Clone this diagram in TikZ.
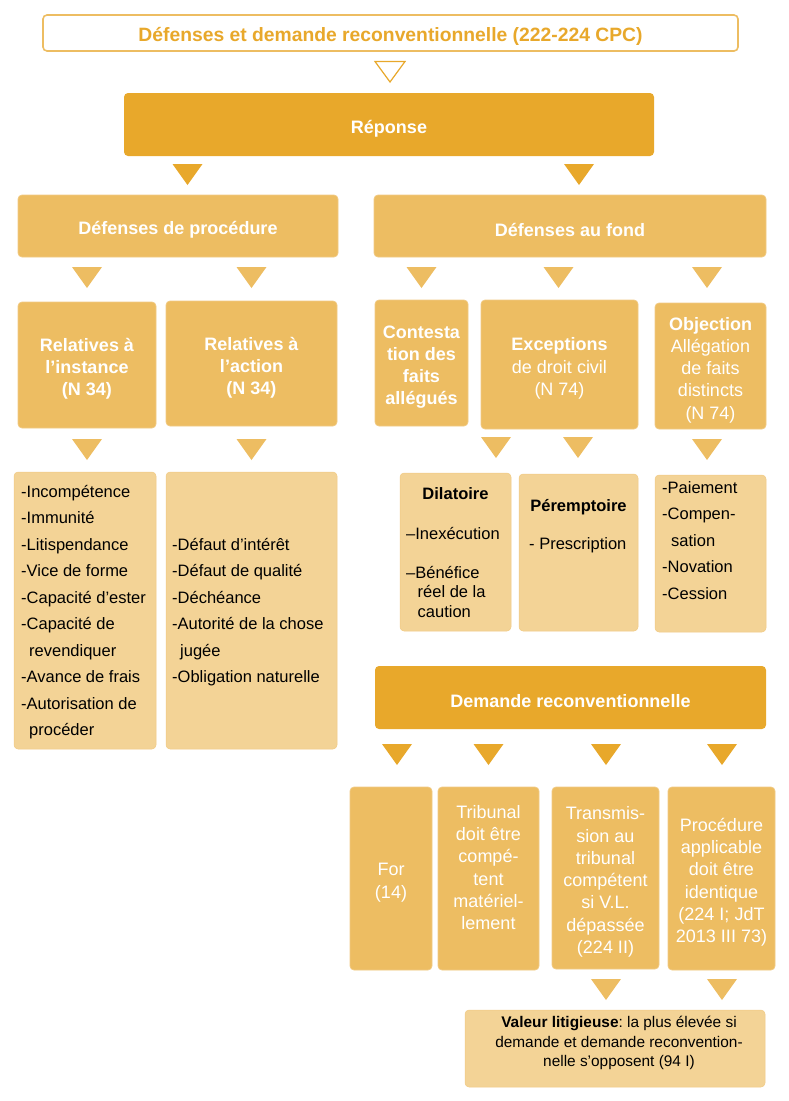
\documentclass[tikz,border=0pt]{standalone}
\usepackage{fontspec}
\setmainfont{Liberation Sans}
\frenchspacing
\definecolor{ocre}{HTML}{E8A82B}
\definecolor{sable}{HTML}{EDBD62}
\definecolor{creme}{HTML}{F3D396}
\definecolor{liseret}{HTML}{F1CA84}
\newcommand{\fsz}[2]{\fontsize{#1}{#2}\selectfont}
% invisible strut fixing the height of the first line of a list
\newcommand{\firstline}{\rule{0pt}{14pt}}
% taller strut that sets box captions slightly lower than plain centring
\newcommand{\boxstrut}{\rule{0pt}{21pt}}
% filled downward triangle: colour, centre x, top y
\newcommand{\dtri}[3]{\fill[#1] (#2-15,#3) -- (#2+15,#3) -- (#2,#3+21) -- cycle;}
\begin{document}
\begin{tikzpicture}[x=1pt,y=-1pt,
  box/.style={rounded corners=4pt, inner sep=0pt, align=center, text=white},
  darkbox/.style={box, fill=ocre, font={\bfseries\fsz{18}{22}}},
  midbox/.style={box, fill=sable, draw=liseret, line width=0.7pt, font={\fsz{18}{22.3}}},
  lightbox/.style={box, fill=creme, draw=liseret, line width=0.5pt},
  listtxt/.style={inner sep=0pt, align=left, text=black, font={\fsz{16.5}{26.5}}},
  itemtxt/.style={inner sep=0pt, text=black, font={\fsz{16.5}{19.5}}}
]
\useasboundingbox (0,0) rectangle (789,1101);

% title
\node[box, fill=white, draw=sable, line width=1.6pt, text=ocre,
      font={\bfseries\fsz{19.3}{22}}, minimum width=695pt, minimum height=36pt]
  (titre) at (390.5,33) {\boxstrut Défenses et demande reconventionnelle (222-224 CPC)};
\draw[ocre, line width=1.2pt, fill=white, line join=miter]
  (375,61.5) -- (405,61.5) -- (390,82) -- cycle;

% first level
\node[darkbox, minimum width=530pt, minimum height=63pt] (reponse) at (389,124.5) {\boxstrut Réponse};
\dtri{ocre}{187.5}{164}
\dtri{ocre}{579}{164}

% second level
\node[midbox, font={\bfseries\fsz{18}{22}}, minimum width=320pt, minimum height=62pt]
  (dproc) at (178,226) {\boxstrut Défenses de procédure};
\node[midbox, font={\bfseries\fsz{18}{22}}, minimum width=392pt, minimum height=62pt]
  (dfond) at (570,226) {\boxstrut Défenses au fond};
\dtri{sable}{87}{267}
\dtri{sable}{251.5}{267}
\dtri{sable}{421.5}{267}
\dtri{sable}{558.5}{267}
\dtri{sable}{707}{267}

% third level
\node[midbox, font={\bfseries\fsz{18}{22}}, minimum width=138pt, minimum height=126pt]
  (rinst) at (87,365) {\boxstrut Relatives à\\l’instance\\(N 34)};
\node[midbox, font={\bfseries\fsz{18}{22}}, minimum width=171pt, minimum height=125pt]
  (ract) at (251.5,363.5) {\boxstrut Relatives à\\l’action\\(N 34)};
\node[midbox, font={\bfseries\fsz{18}{22}}, minimum width=93pt, minimum height=126pt]
  (contest) at (421.5,363) {\boxstrut Contesta\\tion des\\faits\\allégués};
\node[midbox, minimum width=157pt, minimum height=129pt]
  (except) at (559.5,364.5) {\boxstrut\textbf{Exceptions}\\de droit civil\\(N 74)};
\node[midbox, minimum width=111pt, minimum height=126pt]
  (object) at (710.5,366) {\boxstrut\textbf{Objection}\\Allégation\\de faits\\distincts\\(N 74)};
\dtri{sable}{87}{439}
\dtri{sable}{251.5}{439}
\dtri{sable}{496}{437}
\dtri{sable}{578}{437}
\dtri{sable}{707}{439}

% lists of defences
\node[lightbox, minimum width=142pt, minimum height=277pt] (liste1) at (85,610.5) {};
\node[listtxt, anchor=north west] (txt1) at (21,483)
  {\firstline-Incompétence\\-Immunité\\-Litispendance\\-Vice de forme\\-Capacité d’ester\\-Capacité de\\\hspace*{8pt}revendiquer\\-Avance de frais\\-Autorisation de\\\hspace*{8pt}procéder};
\node[lightbox, minimum width=171pt, minimum height=277pt] (liste2) at (251.5,610.5) {};
\node[listtxt, anchor=north west] (txt2) at (172,536)
  {\firstline-Défaut d’intérêt\\-Défaut de qualité\\-Déchéance\\-Autorité de la chose\\\hspace*{8pt}jugée\\-Obligation naturelle};

\node[lightbox, minimum width=111pt, minimum height=158pt] (dilat) at (455.5,552) {};
\node[itemtxt, anchor=base, font={\bfseries\fsz{16.5}{19.5}}] (dilatt) at (455.5,499) {Dilatoire};
\node[itemtxt, align=left, anchor=north west] (dilatl) at (406,525)
  {\firstline–Inexécution\\[19.5pt]–Bénéfice\\\hspace*{11.5pt}réel de la\\\hspace*{11.5pt}caution};

\node[lightbox, minimum width=119pt, minimum height=157pt] (perem) at (578.5,552.5) {};
\node[itemtxt, anchor=base, font={\bfseries\fsz{16.5}{19.5}}] (peremt) at (578.5,511) {Péremptoire};
\node[itemtxt, anchor=base west] (pereml) at (529,549) {- Prescription};

\node[lightbox, minimum width=111pt, minimum height=157pt] (paie) at (710.5,553.5) {};
\node[listtxt, anchor=north west] (paiel) at (662,479)
  {\firstline-Paiement\\-Compen-\\\hspace*{9pt}sation\\-Novation\\-Cession};

% counterclaim
\node[darkbox, minimum width=391pt, minimum height=63pt] (demrec) at (570.5,697.5) {\boxstrut Demande reconventionnelle};
\dtri{ocre}{397}{744}
\dtri{ocre}{488.5}{744}
\dtri{ocre}{606}{744}
\dtri{ocre}{722}{744}

\node[midbox, minimum width=82pt, minimum height=183pt] (for) at (391,878.5) {\boxstrut For\\(14)};
\node[midbox, minimum width=101pt, minimum height=183pt] (trib) at (488.5,878.5)
  {Tribunal\\doit être\\compé-\\tent\\matériel-\\lement\\\mbox{}};
\node[midbox, minimum width=107pt, minimum height=182pt] (trans) at (605.5,878)
  {\boxstrut Transmis-\\sion au\\tribunal\\compétent\\si V.L.\\dépassée\\(224 II)};
\node[midbox, minimum width=107pt, minimum height=183pt] (proc) at (721.5,878.5)
  {\boxstrut Procédure\\applicable\\doit être\\identique\\(224 I; JdT\\2013 III 73)};
\dtri{sable}{606}{979}
\dtri{sable}{722}{979}

\node[lightbox, minimum width=300pt, minimum height=77pt] (valeur) at (615,1048.5) {};
\node[inner sep=0pt, align=center, text=black, font={\fsz{15.4}{19.5}}, anchor=north] (valeurt) at (619,1013.5)
  {\firstline\textbf{Valeur litigieuse}: la plus élevée si\\demande et demande reconvention-\\nelle s’opposent (94 I)};
\end{tikzpicture}
\end{document}
